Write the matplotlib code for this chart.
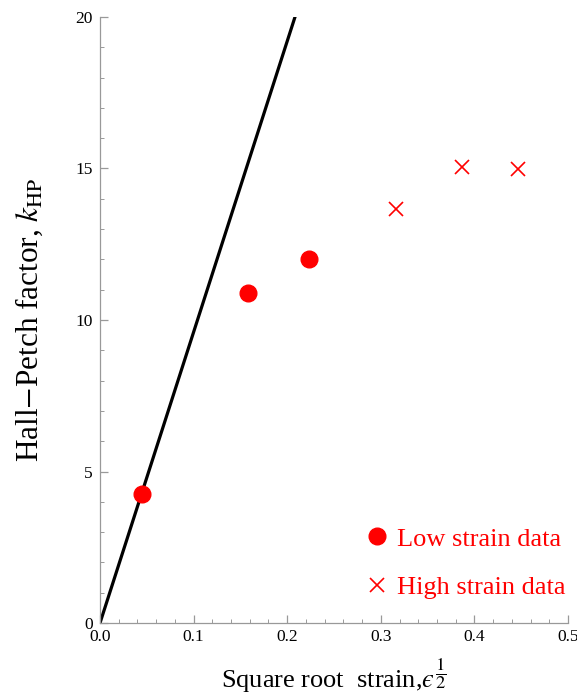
import matplotlib
matplotlib.use("Agg")
import matplotlib.pyplot as plt
from matplotlib.ticker import MultipleLocator
from matplotlib.lines import Line2D

plt.rcParams['font.family'] = ['Liberation Serif', 'DejaVu Serif']
plt.rcParams['mathtext.fontset'] = 'stix'

# Hall-Petch factor vs square root of strain
low_x = [0.0447, 0.158, 0.2236]
low_y = [4.25, 10.9, 12.0]
high_x = [0.316, 0.387, 0.447]
high_y = [13.65, 15.05, 14.97]
fit_slope = 96.0
fit_x = [0.0, 0.5]

x_ticks = [0.0, 0.1, 0.2, 0.3, 0.4, 0.5]
x_tick_labels = ["0.0", "0.1", "0.2", "0.3", "0.4", "0.5"]
y_ticks = [0, 5, 10, 15, 20]
y_tick_labels = ["0", "5", "10", "15", "20"]

fig = plt.figure(figsize=(5.77, 6.99), dpi=100)
ax = fig.add_axes([0.1733, 0.1087, 0.8111, 0.867])

ax.plot(fit_x, [fit_slope * v for v in fit_x], color='black', lw=2.3, zorder=2)
ax.plot(low_x, low_y, 'o', color='red', ms=12, zorder=3)
ax.plot(high_x, high_y, 'x', color='red', ms=10, mew=1.2, zorder=3)

ax.set_xlim(0, 0.5)
ax.set_ylim(0, 20)
ax.set_xticks(x_ticks)
ax.set_xticklabels(x_tick_labels)
ax.set_yticks(y_ticks)
ax.set_yticklabels(y_tick_labels)
ax.xaxis.set_minor_locator(MultipleLocator(0.02))
ax.yaxis.set_minor_locator(MultipleLocator(1))

for s in ['top', 'right']:
    ax.spines[s].set_visible(False)
for s in ['left', 'bottom']:
    ax.spines[s].set_color('#999999')
    ax.spines[s].set_linewidth(0.9)

ax.tick_params(which='both', direction='in', color='#999999', labelsize=12.5,
               labelcolor='black')
ax.tick_params(which='major', length=6, width=0.9)
ax.tick_params(which='minor', length=3, width=0.7)
ax.tick_params(axis='y', pad=5)
ax.tick_params(axis='x', pad=4)

ax.set_xlabel("Square root  strain,$\u03f5^{\\dfrac{1}{2}}$", fontsize=19, labelpad=9)
ax.set_ylabel(r"Hall$-$Petch factor, $k_{\mathrm{HP}}$", fontsize=22.5, labelpad=22)

handles = [
    Line2D([], [], ls='none', marker='o', color='red', ms=12),
    Line2D([], [], ls='none', marker='x', color='red', ms=10, mew=1.2),
]
leg = ax.legend(handles, ["Low strain data", "High strain data"], loc='lower right',
                frameon=False, fontsize=19, labelcolor='red', handlelength=0.6,
                handletextpad=0.45, labelspacing=0.95, bbox_to_anchor=(1.045, 0.0))

fig.savefig("out.png", dpi=100)
